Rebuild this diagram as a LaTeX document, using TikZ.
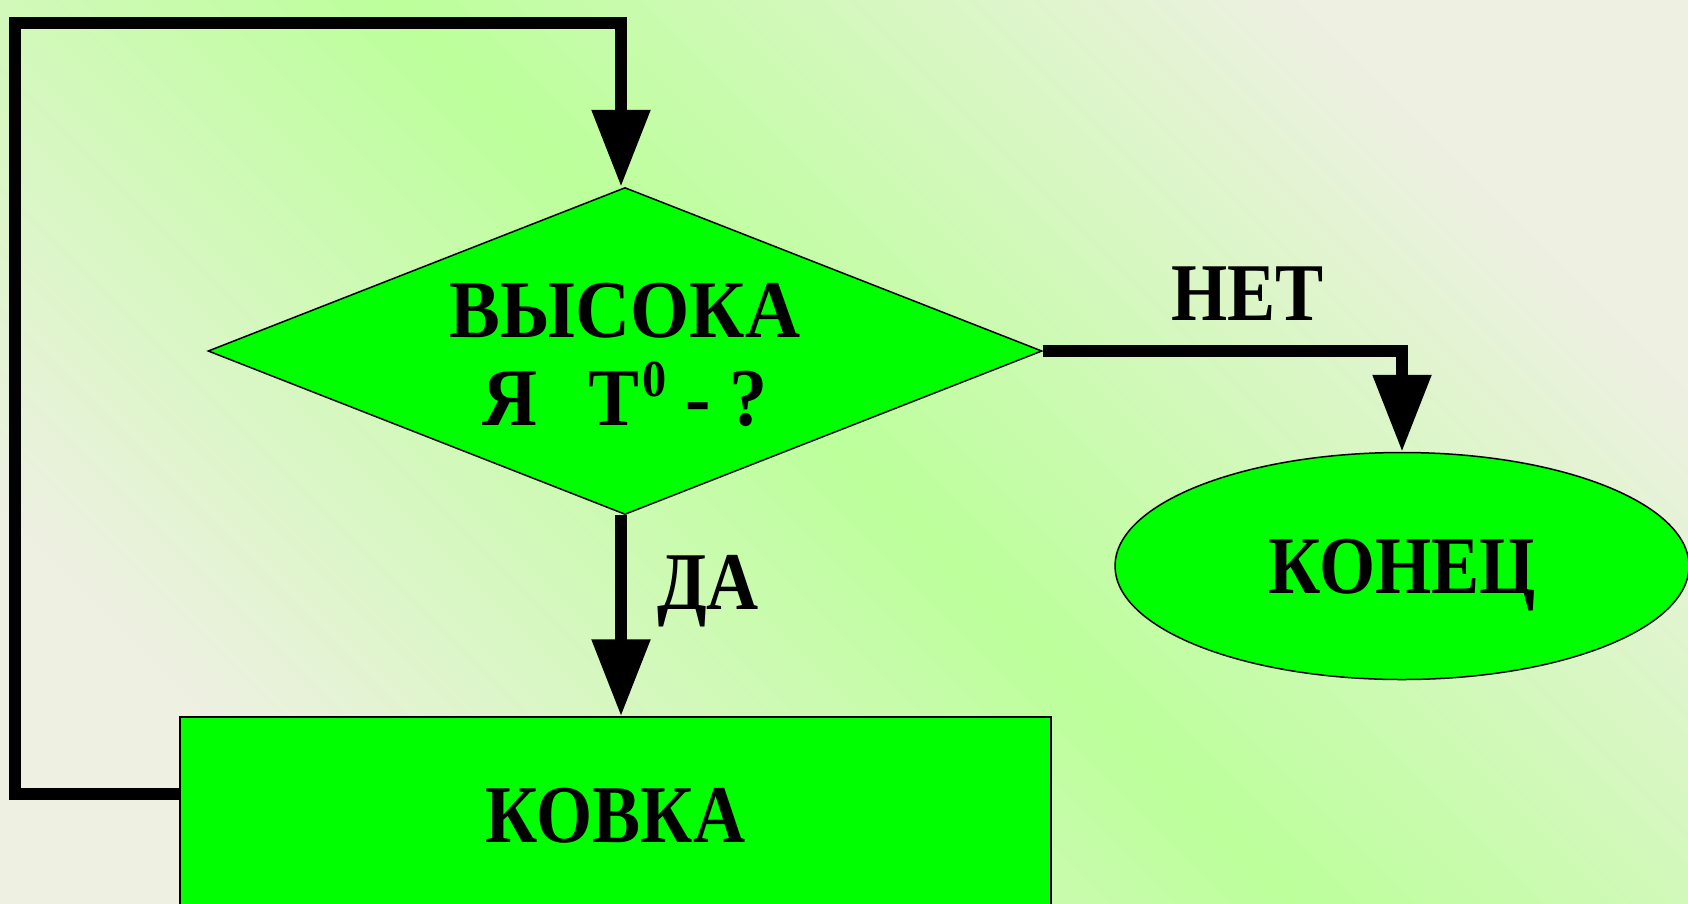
\documentclass[tikz,border=0pt]{standalone}
\usepackage{fontspec}
\setmainfont{Liberation Serif}[FakeStretch=0.88]
\newfontfamily\questionfont{Liberation Serif}[FakeStretch=0.93]
\usepackage{tikz}
\usetikzlibrary{arrows.meta, positioning, shapes.geometric}

\definecolor{bgbeige}{HTML}{EEF0E2}
\definecolor{bggreen}{HTML}{BCFF9B}
\definecolor{boxgreen}{HTML}{00FF00}

\tikzset{
  flowline/.style={line width=12pt, line join=miter, -{Triangle[length=77pt, width=56pt]}},
  blocktext/.style={font=\fontsize{82}{88}\selectfont\bfseries},
  shapebox/.style={draw=black, line width=1.5pt, fill=boxgreen, inner sep=0pt, blocktext},
}

\begin{document}
\begin{tikzpicture}[x=1pt, y=-1pt]
  \clip (0,0) rectangle (1688,903);
  % background
  \shade[left color=bgbeige, right color=bgbeige, middle color=bggreen, shading angle=135] (0,0) rectangle (1688,903);

  % blocks
  \node[shapebox, diamond, aspect=2.55, minimum width=834pt, minimum height=327pt, align=center,
        font=\fontsize{82}{88}\questionfont\bfseries] (question) at (625,351)
    {\rule{0pt}{63pt}ВЫСОКА\\Я\hspace{51pt}Т\kern3pt\raisebox{29pt}{\fontsize{52}{52}\selectfont 0}\ -\ ?};
  \node[shapebox, ellipse, minimum width=574pt, minimum height=227pt, text depth=0pt] (finish) at (1402,566) {КОНЕЦ};
  \node[shapebox, rectangle, minimum width=871pt, minimum height=198pt] (forging) at (615.5,816) {КОВКА};

  % connectors
  \coordinate (backleft) at (15,794);
  \coordinate (backtop) at (15,23);
  \draw[flowline] (forging.west |- backleft) -- (backleft) -- (backtop) -| ([xshift=-4pt]question.north);
  \draw[flowline] (question.east) -| node[blocktext, pos=0.285, above=25pt, inner sep=0pt] (nolabel) {НЕТ} (finish.north);
  \draw[flowline] ([xshift=-4pt]question.south) -- node[blocktext, pos=0.38, right=30pt, inner sep=0pt] (yeslabel) {ДА} ([xshift=-4pt]question.south |- forging.north);
\end{tikzpicture}
\end{document}
